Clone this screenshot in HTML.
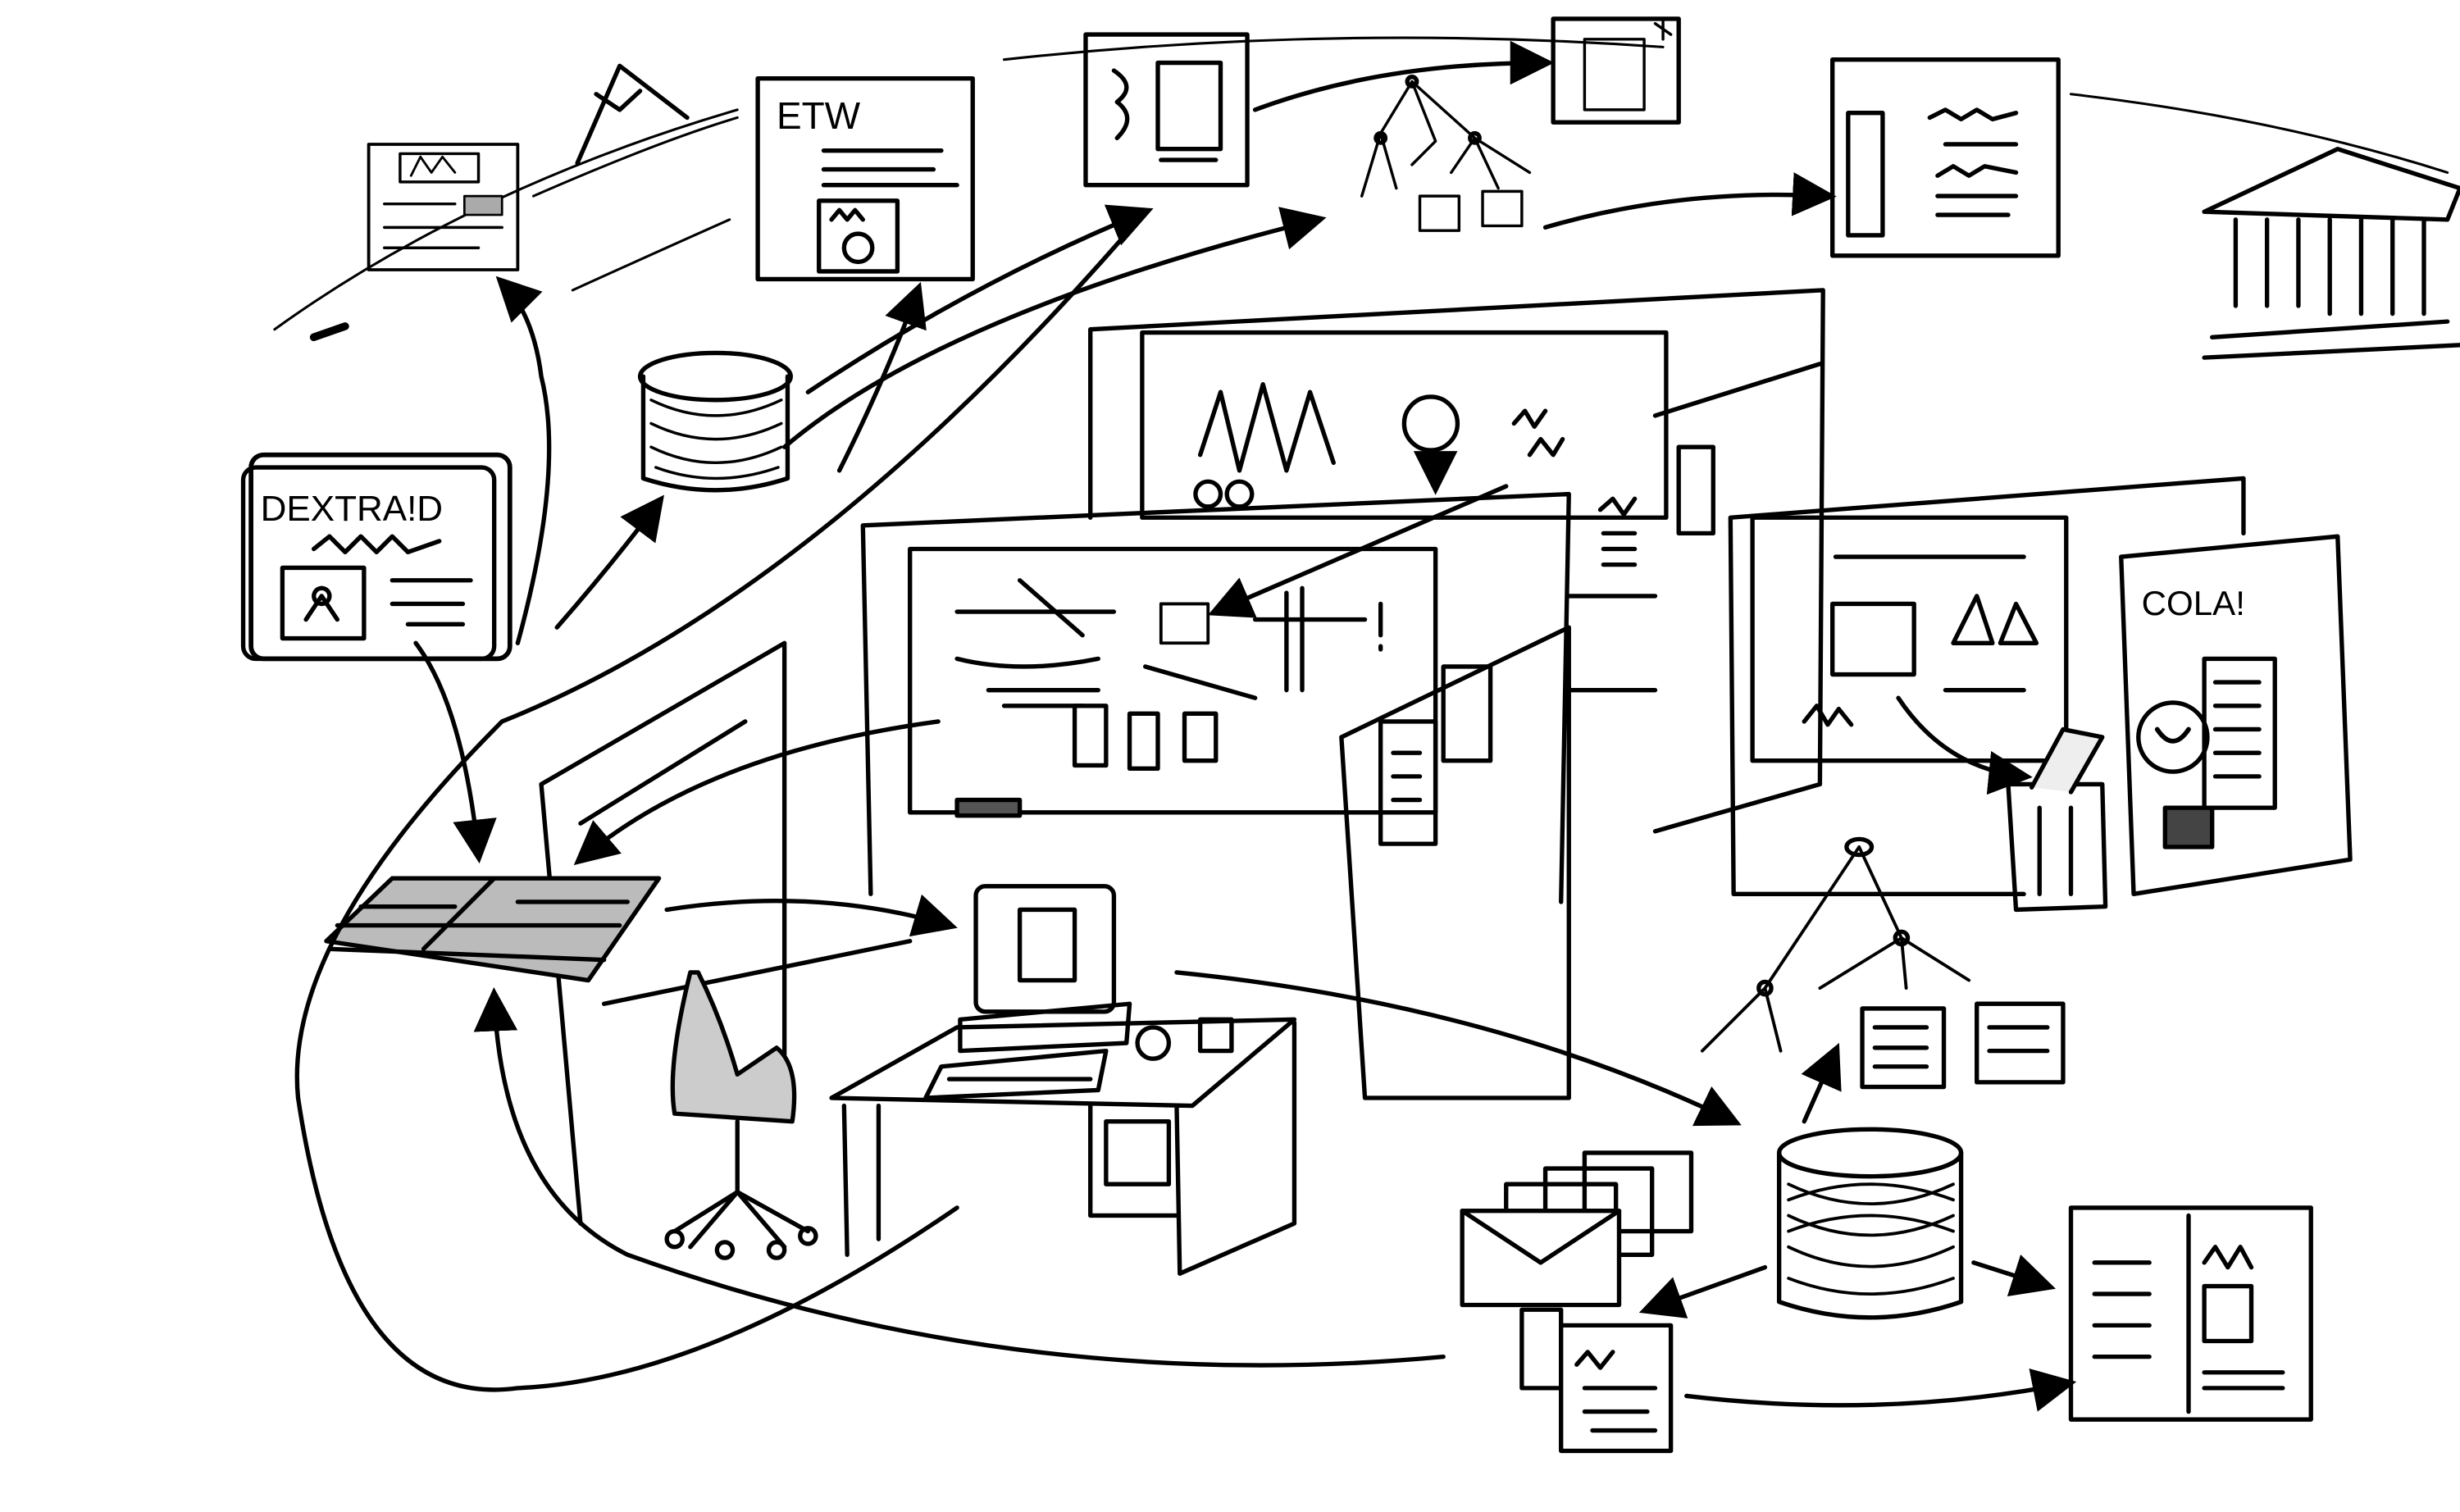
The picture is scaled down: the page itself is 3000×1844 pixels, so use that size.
<!DOCTYPE html>
<html><head><meta charset="utf-8"><style>
html,body{margin:0;padding:0;background:#fff;}
svg{display:block;}
text{font-family:"Liberation Sans",sans-serif;}
</style></head><body>
<svg width="3000" height="1844" viewBox="0 0 1568 964" preserveAspectRatio="none" xmlns="http://www.w3.org/2000/svg">
<defs><marker id="a" markerWidth="10" markerHeight="10" refX="8" refY="5" orient="auto"><path d="M0,0 L10,5 L0,10 Z" fill="#000"/></marker></defs>
<g fill="none" stroke="#000" stroke-width="2.8" stroke-linecap="round" stroke-linejoin="round">
<!-- top arcs -->
<path d="M175,210 Q300,120 470,70" stroke-width="1.6"/>
<path d="M340,125 Q420,90 470,75" stroke-width="1.6"/>
<path d="M365,185 Q420,160 465,140" stroke-width="1.6"/>
<path d="M640,38 Q850,15 1060,30" stroke-width="1.6"/>
<path d="M1320,60 Q1450,75 1560,110" stroke-width="1.6"/>
<path d="M200,215 L220,208" stroke-width="5"/>
<!-- top doc 1 -->
<rect x="235" y="92" width="95" height="80" stroke-width="2"/>
<rect x="255" y="98" width="50" height="18" stroke-width="1.8"/>
<path d="M262,112 L268,100 L275,110 L282,100 L290,110" stroke-width="1.5"/>
<rect x="296" y="125" width="24" height="12" fill="#aaa" stroke-width="1.4"/>
<path d="M245,130H290M245,145H320M245,158H305" stroke-width="1.8"/>
<!-- mountain -->
<path d="M368,104 L395,42 L438,75 M380,60 L395,70 L408,58"/>
<!-- doc ETW -->
<rect x="483" y="50" width="137" height="128"/>
<text x="495" y="82" font-size="24" fill="#000" stroke="none">ETW</text>
<path d="M525,96H600M525,108H595M525,118H610"/>
<rect x="522" y="128" width="50" height="45"/>
<path d="M530,140 L535,134 L540,140 L545,134 L550,140"/>
<circle cx="547" cy="158" r="9"/>
<!-- doc 3 -->
<rect x="692" y="22" width="103" height="96"/>
<rect x="738" y="40" width="40" height="55"/>
<path d="M710,45 Q725,55 712,65 Q725,75 712,88 M740,102H775"/>
<!-- doc 4 -->
<rect x="990" y="12" width="80" height="66"/>
<rect x="1010" y="25" width="38" height="45" stroke-width="1.8"/>
<path d="M1055,15 L1065,22 M1060,12 V25" stroke-width="1.8"/>
<!-- tree top -->
<path d="M900,52 L880,85 L868,125 M900,52 L915,90 L900,105 M900,52 L940,88 L925,110 M940,88 L975,110 M940,88 L955,120 M880,85 L890,120" stroke-width="1.8"/>
<circle cx="900" cy="52" r="3"/><circle cx="880" cy="88" r="3"/><circle cx="940" cy="88" r="3"/>
<rect x="905" y="125" width="25" height="22" stroke-width="1.8"/><rect x="945" y="122" width="25" height="22" stroke-width="1.8"/>
<!-- doc 5 -->
<rect x="1168" y="38" width="144" height="125"/>
<rect x="1178" y="72" width="22" height="78"/>
<path d="M1230,75 L1240,70 L1250,76 L1260,70 L1270,76 L1285,72 M1240,92H1285M1235,112 L1245,106 L1255,112 L1265,106 L1285,110 M1235,125H1285M1235,137H1280"/>
<!-- building -->
<path d="M1405,135 L1490,95 L1568,120 L1560,140 L1405,135 Z M1425,140 V195 M1445,140V195 M1465,140V195 M1485,140V200 M1505,140V200 M1525,140V200 M1545,140V200 M1410,215 L1560,205 M1405,228 L1568,220"/>
<!-- cylinder top -->
<ellipse cx="456" cy="240" rx="48" ry="15"/>
<path d="M410,240 V305 Q456,320 502,305 V240"/>
<path d="M415,255 Q456,275 498,255 M415,270 Q456,290 498,270 M415,285 Q456,305 498,285 M418,298 Q456,312 496,298" stroke-width="1.8"/>
<!-- DEXTRA -->
<rect x="160" y="290" width="165" height="130" rx="8" stroke-width="3"/>
<rect x="155" y="298" width="160" height="122" rx="8"/>
<text x="166" y="332" font-size="23" fill="#000" stroke="none">DEXTRA!D</text>
<path d="M200,350 L210,342 L220,352 L230,342 L240,352 L250,342 L260,352 L280,345"/>
<rect x="180" y="362" width="52" height="45"/>
<path d="M195,395 L205,380 L215,395 M205,375 a5,5 0 1,0 0.1,0"/>
<path d="M250,370H300M250,385H295M260,398H295"/>
<!-- back cubicle -->
<path d="M695,210 L1162,185 L1160,500 L1055,530 M695,210 L695,330 M1055,265 L1160,232"/>
<rect x="728" y="212" width="334" height="118"/>
<path d="M765,290 L778,250 L790,300 L805,245 L820,300 L835,250 L850,295" />
<circle cx="912" cy="270" r="17"/><circle cx="770" cy="315" r="8"/><circle cx="790" cy="315" r="8"/>
<path d="M965,270 L972,262 L978,272 L985,262 M975,290 L982,280 L990,290 L996,280"/>
<path d="M1020,325 L1028,318 L1035,328 L1042,318 M1022,340H1042M1022,350H1042M1022,360H1042"/>
<path d="M1000,380H1055M1000,440H1055"/>
<rect x="1070" y="285" width="22" height="55"/>
<!-- middle panel -->
<path d="M550,335 L1000,315 L995,575 M550,335 L555,570 M855,470 L1000,400 L1000,700 L870,700 Z" />
<rect x="580" y="350" width="335" height="168"/>
<path d="M610,390 H710 M650,370 L690,405 M800,395H870M830,375V440M820,378V440M610,420Q650,430 700,420M630,440H700M640,450H690M730,425 L800,445 M880,385V405 M880,412V414"/>
<rect x="740" y="385" width="30" height="25" stroke-width="2"/>
<rect x="685" y="450" width="20" height="38"/><rect x="720" y="455" width="18" height="35"/><rect x="755" y="455" width="20" height="30"/>
<rect x="880" y="460" width="35" height="78"/><rect x="920" y="425" width="30" height="60"/>
<path d="M888,480H905M888,495H905M888,510H905"/>
<rect x="610" y="510" width="40" height="10" fill="#555"/>
<!-- left panel -->
<path d="M345,500 L500,410 L500,700 M345,500 L370,780 M385,640 L580,600 M370,525 L475,460"/>
<!-- right panel -->
<path d="M1103,330 L1430,305 L1430,340 M1103,330 L1105,570 L1290,570"/>
<rect x="1117" y="330" width="200" height="155"/>
<path d="M1170,355 H1290 M1245,410 L1260,380 L1270,410 Z M1275,410 L1285,385 L1298,410 Z M1150,460 L1158,450 L1165,462 L1172,452 L1180,462 M1240,440 H1290"/>
<rect x="1168" y="385" width="52" height="45"/>
<path d="M1210,445 Q1240,490 1290,495" marker-end="url(#a)"/>
<!-- COLA -->
<path d="M1352,355 L1490,342 L1498,548 L1360,570 Z"/>
<text x="1365" y="392" font-size="22" fill="#000" stroke="none">COLA!</text>
<rect x="1405" y="420" width="45" height="95"/>
<path d="M1412,435H1440M1412,450H1440M1412,465H1440M1412,480H1440M1412,495H1440"/>
<circle cx="1385" cy="470" r="22"/>
<path d="M1375,465 Q1385,480 1395,465" stroke-width="3"/>
<rect x="1380" y="515" width="30" height="25" fill="#444"/>
<!-- trash -->
<path d="M1280,500 L1340,500 L1342,578 L1285,580 Z M1300,515 V570 M1320,515V570"/>
<path d="M1295,502 L1315,465 L1340,470 L1320,505" fill="#eee"/>
<!-- book -->
<path d="M208,600 L250,560 L420,560 L375,625 Z" fill="#bbb"/>
<path d="M270,605 L315,560 M215,590 L395,590 M210,605 L385,612 M230,578H290M330,575H400"/>
<!-- computer -->
<rect x="622" y="565" width="88" height="80" rx="6"/>
<rect x="650" y="580" width="35" height="45"/>
<path d="M612,650 L720,640 L718,665 L612,670 Z M600,680 L705,670 L700,695 L590,700 Z M605,688 H695" />
<!-- desk -->
<path d="M530,700 L610,655 L825,650 L760,705 Z M538,705 L540,800 M560,705 L560,790 M695,705 L695,775 L750,775 M750,705 L752,812 L825,780 L825,652"/>
<rect x="705" y="715" width="40" height="40"/>
<circle cx="735" cy="665" r="10"/><rect x="765" y="650" width="20" height="20"/>
<!-- chair -->
<path d="M440,620 Q425,680 430,710 L505,715 Q510,680 495,668 L470,685 Q460,650 445,620 Z" fill="#ccc"/>
<path d="M470,715 V760 M430,785 L470,760 L515,785 M440,795 L470,760 L500,795"/>
<circle cx="430" cy="790" r="5"/><circle cx="515" cy="788" r="5"/><circle cx="462" cy="797" r="5"/><circle cx="495" cy="797" r="5"/>
<!-- lower tree -->
<path d="M1185,540 L1125,630 L1085,670 M1125,630 L1135,670 M1185,540 L1212,598 L1160,630 M1212,598 L1255,625 M1212,598 L1215,630" stroke-width="2"/>
<ellipse cx="1185" cy="540" rx="8" ry="5"/><circle cx="1125" cy="630" r="4"/><circle cx="1212" cy="598" r="4"/>
<rect x="1187" y="643" width="52" height="50"/><rect x="1260" y="640" width="55" height="50"/>
<path d="M1195,655H1228M1195,668H1228M1195,680H1228M1268,655H1305M1268,670H1305"/>
<!-- lower cylinder -->
<ellipse cx="1192" cy="735" rx="58" ry="15"/>
<path d="M1134,735 V830 Q1192,850 1250,830 V735"/>
<path d="M1140,755 Q1192,780 1245,755 M1140,775 Q1192,800 1245,775 M1140,795 Q1192,820 1245,795 M1140,815 Q1192,835 1245,815 M1140,765 Q1192,745 1245,765 M1140,785 Q1192,765 1245,785" stroke-width="2"/>
<!-- envelopes -->
<rect x="1010" y="735" width="68" height="50"/><rect x="985" y="745" width="68" height="55"/><rect x="960" y="755" width="70" height="60"/>
<rect x="932" y="772" width="100" height="60" fill="#fff"/>
<path d="M932,772 L982,805 L1032,772"/>
<!-- doc lower -->
<rect x="970" y="835" width="25" height="50"/>
<rect x="995" y="845" width="70" height="80" fill="#fff"/>
<path d="M1005,870 L1012,862 L1020,872 L1028,862 M1010,885H1055M1010,900H1050M1015,912H1055"/>
<!-- doc right lower -->
<rect x="1320" y="770" width="153" height="135"/>
<path d="M1395,775 V900 M1335,805H1370M1335,825H1370M1335,845H1370M1335,865H1370 M1405,805 L1412,795 L1420,808 L1428,795 L1435,808 M1405,875H1455M1405,885H1455"/>
<rect x="1405" y="820" width="30" height="35"/>
<!-- connectors -->
<path d="M330,410 Q360,300 345,240 Q340,200 320,180" marker-end="url(#a)"/>
<path d="M355,400 Q390,360 420,320" marker-end="url(#a)"/>
<path d="M535,300 Q565,240 585,185" marker-end="url(#a)"/>
<path d="M515,250 Q620,180 730,135" marker-end="url(#a)"/>
<path d="M800,70 Q880,40 985,40" marker-end="url(#a)"/>
<path d="M985,145 Q1070,120 1165,125" marker-end="url(#a)"/>
<path d="M730,135 Q520,380 320,460 Q180,600 190,700 Q220,900 330,885 Q450,880 610,770"/>
<path d="M500,285 Q600,200 840,140" marker-end="url(#a)"/>
<path d="M265,410 Q295,450 305,545" marker-end="url(#a)"/>
<path d="M425,580 Q520,565 605,590" marker-end="url(#a)"/>
<path d="M598,460 Q450,480 370,548" marker-end="url(#a)"/>
<path d="M750,620 Q950,640 1105,715" marker-end="url(#a)"/>
<path d="M920,865 Q650,890 400,800 Q320,760 315,635" marker-end="url(#a)"/>
<path d="M1125,808 L1050,835" marker-end="url(#a)"/>
<path d="M1258,805 L1305,820" marker-end="url(#a)"/>
<path d="M1075,890 Q1200,905 1318,882" marker-end="url(#a)"/>
<path d="M1150,715 L1170,670" marker-end="url(#a)"/>
<path d="M960,310 L775,390" marker-end="url(#a)"/>
<path d="M915,290 V310" marker-end="url(#a)"/>
</g>
</svg>
</body></html>
